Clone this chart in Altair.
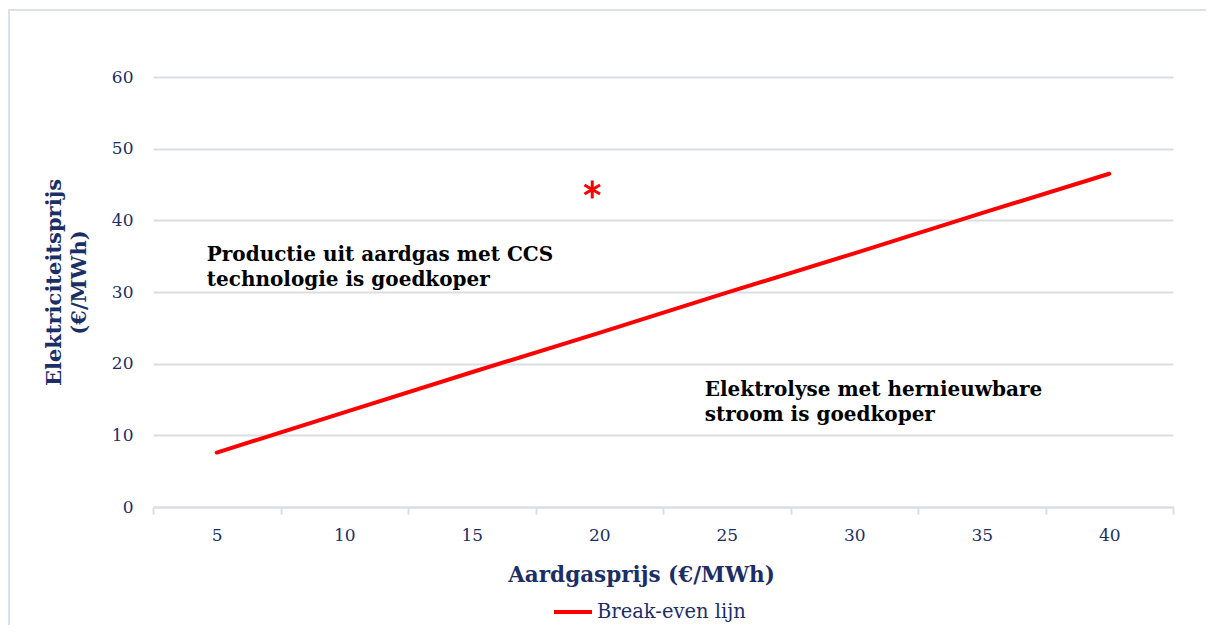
import altair as alt
import pandas as pd

# ---- data ----
gas_price = [5, 10, 15, 20, 25, 30, 35, 40]
break_even = [7.6, 13.2, 18.8, 24.3, 29.9, 35.4, 41.0, 46.5]
series_name = ["Break-even lijn"] * len(gas_price)

star_x = [20]
star_y = [44.3]

note1_x = [5]
note1_y = [35.2]
note1_text = ["Productie uit aardgas met CCS\ntechnologie is goedkoper"]

note2_x = [25]
note2_y = [16.3]
note2_text = ["Elektrolyse met hernieuwbare\nstroom is goedkoper"]

y_ticks = [0, 10, 20, 30, 40, 50, 60]

NAVY = "#1B2F66"
GRID = "#D9DEE6"
FONT = "DejaVu Serif"
W, H = 1020, 430

line_df = pd.DataFrame({"gas": gas_price, "elec": break_even, "serie": series_name})
star_df = pd.DataFrame({"gas": star_x, "elec": star_y})
n1_df = pd.DataFrame({"gas": note1_x, "elec": note1_y, "t": note1_text})
n2_df = pd.DataFrame({"gas": note2_x, "elec": note2_y, "t": note2_text})

xscale = alt.Scale(type="band", domain=gas_price, paddingInner=0, paddingOuter=0)
yscale = alt.Scale(domain=[0, 60], nice=False)

xaxis = alt.Axis(
    title="Aardgasprijs (€/MWh)", titleFont=FONT, titleFontSize=21.5, titleFontWeight="bold",
    titleColor=NAVY, titlePadding=21, titleX=488,
    labelFont=FONT, labelFontSize=17, labelColor=NAVY, labelAngle=0, labelPadding=13,
    tickBand="extent", tickSize=7, tickColor=GRID, tickWidth=2,
    domainColor=GRID, domainWidth=2, grid=False,
)
yaxis = alt.Axis(
    title=["Elektriciteitsprijs", "(€/MWh)"], titleFont=FONT, titleFontSize=21,
    titleFontWeight="bold", titleColor=NAVY, titlePadding=22, titleLineHeight=25,
    titleY=205,
    labelFont=FONT, labelFontSize=17, labelColor=NAVY, labelPadding=20,
    values=y_ticks, ticks=False, domain=False, grid=True, gridColor=GRID, gridWidth=2,
)

frame = alt.Chart(pd.DataFrame({"a": [0]})).mark_rect(
    fill="transparent", stroke="#DCE1E8", strokeWidth=2
).encode(
    x=alt.value(-144), x2=alt.value(W + 200), y=alt.value(-67), y2=alt.value(H + 300)
)

line = alt.Chart(line_df).mark_line(strokeWidth=4, strokeCap="round").encode(
    x=alt.X("gas:O", scale=xscale, axis=xaxis, sort=gas_price),
    y=alt.Y("elec:Q", scale=yscale, axis=yaxis),
    color=alt.Color(
        "serie:N",
        scale=alt.Scale(domain=["Break-even lijn"], range=["#FF0000"]),
        legend=alt.Legend(
            title=None, orient="none", legendX=399, legendY=514,
            symbolType="stroke", symbolSize=1444, symbolStrokeWidth=4,
            labelFont=FONT, labelFontSize=19.5, labelColor=NAVY, labelOffset=3,
        ),
    ),
)

star = alt.Chart(star_df).mark_point(
    shape="M0,-1L0,1M-0.866,-0.5L0.866,0.5M-0.866,0.5L0.866,-0.5",
    filled=False, stroke="#FF0000", strokeWidth=3, size=324, xOffset=-7, opacity=1,
).encode(x=alt.X("gas:O", scale=xscale, sort=gas_price), y=alt.Y("elec:Q", scale=yscale))

note1 = alt.Chart(n1_df).mark_text(
    align="left", baseline="middle", dx=-10, font=FONT, fontSize=20, fontWeight="bold",
    color="#000000", lineBreak="\n", lineHeight=25,
).encode(x=alt.X("gas:O", scale=xscale, sort=gas_price), y=alt.Y("elec:Q", scale=yscale), text="t:N")

note2 = alt.Chart(n2_df).mark_text(
    align="left", baseline="middle", dx=-22, font=FONT, fontSize=20, fontWeight="bold",
    color="#000000", lineBreak="\n", lineHeight=25,
).encode(x=alt.X("gas:O", scale=xscale, sort=gas_price), y=alt.Y("elec:Q", scale=yscale), text="t:N")

chart = alt.layer(frame, line, star, note1, note2).properties(
    width=W, height=H,
    autosize=alt.AutoSizeParams(type="none"),
    padding={"left": 145, "top": 69, "right": 33, "bottom": 118},
).configure(background="white").configure_view(strokeWidth=0, stroke="transparent")

chart.save("out.html", embed_options={"renderer": "svg", "actions": False})
